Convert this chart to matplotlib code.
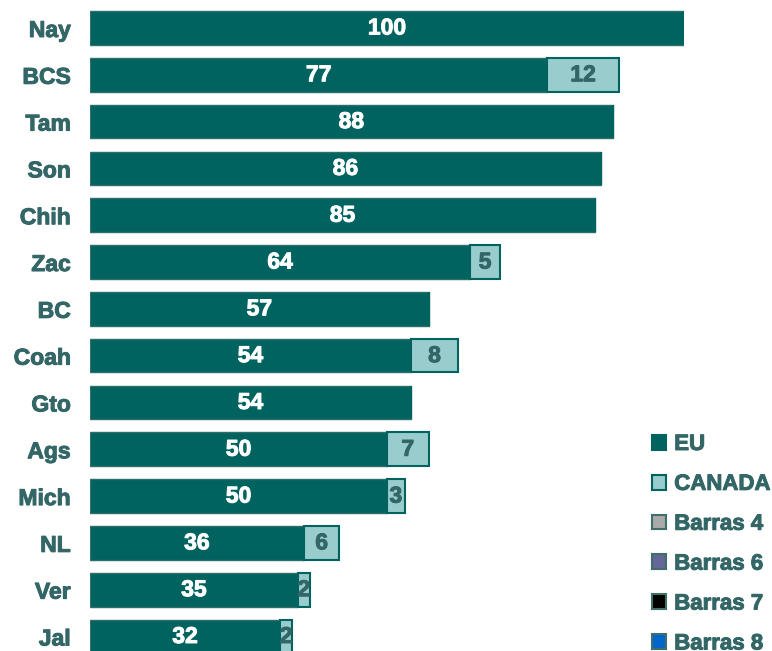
import numpy as np
import matplotlib.pyplot as plt
import matplotlib.patheffects as pe
from matplotlib.patches import Patch

estados = ['Nay', 'BCS', 'Tam', 'Son', 'Chih', 'Zac', 'BC', 'Coah', 'Gto',
           'Ags', 'Mich', 'NL', 'Ver', 'Jal']
eu = [100, 77, 88, 86, 85, 64, 57, 54, 54, 50, 50, 36, 35, 32]
canada = [0, 12, 0, 0, 0, 5, 0, 8, 0, 7, 3, 6, 2, 2]

verde = '#00635f'
verde_claro = '#99cccc'
texto = '#336666'

plt.rcParams['font.family'] = ['Liberation Sans', 'DejaVu Sans']
plt.rcParams['font.weight'] = 'bold'

def grueso(color):
    # engrosar un poco el texto
    return [pe.withStroke(linewidth=0.7, foreground=color)]

fig = plt.figure(figsize=(7.72, 6.51), dpi=100)
ax = fig.add_axes([90 / 772, 0, 594 / 772, 1])

y = np.arange(len(estados))
alto = 0.72

ax.barh(y, eu, height=alto, color=verde, edgecolor='#2f6f6a', linewidth=1)
ax.barh(y, canada, left=eu, height=alto, color=verde_claro,
        edgecolor=verde, linewidth=1.5)

# etiquetas de valores
for i in range(len(estados)):
    ax.text(eu[i] / 2, y[i], str(eu[i]), color='white', fontsize=16.5,
            fontweight='bold', ha='center', va='center', path_effects=grueso('white'))
    if canada[i] > 0:
        ax.text(eu[i] + canada[i] / 2, y[i], str(canada[i]), color=texto,
                fontsize=16.5, fontweight='bold', ha='center', va='center',
                path_effects=grueso(texto))

ax.set_xlim(0, 100)
ax.set_ylim(13.31, -0.598)
ax.set_yticks(y)
ax.set_yticklabels(estados, fontsize=16.5, fontweight='bold', color=texto)
for t in ax.get_yticklabels():
    t.set_path_effects(grueso(texto))
ax.tick_params(axis='y', length=0, pad=14)
ax.set_xticks([])
for s in ax.spines.values():
    s.set_visible(False)

# leyenda
series = [('EU', verde, verde), ('CANADA', verde_claro, verde),
          ('Barras 4', '#aaaaaa', '#3f6f6a'), ('Barras 6', '#666699', '#3f6f6a'),
          ('Barras 7', '#000000', '#3f6f6a'), ('Barras 8', '#0066cc', '#3f6f6a')]
handles = [Patch(facecolor=c, edgecolor=e, linewidth=1.5, label=n) for n, c, e in series]
leg = fig.legend(handles=handles, loc='upper left', bbox_to_anchor=(632 / 772, 1 - 414 / 651),
                 frameon=False, handlelength=0.65, handleheight=0.65, handletextpad=0.35,
                 labelspacing=0.85, prop={'size': 16, 'weight': 'bold'})
for t in leg.get_texts():
    t.set_color(texto)
    t.set_path_effects(grueso(texto))

fig.savefig('out.png', dpi=100)
